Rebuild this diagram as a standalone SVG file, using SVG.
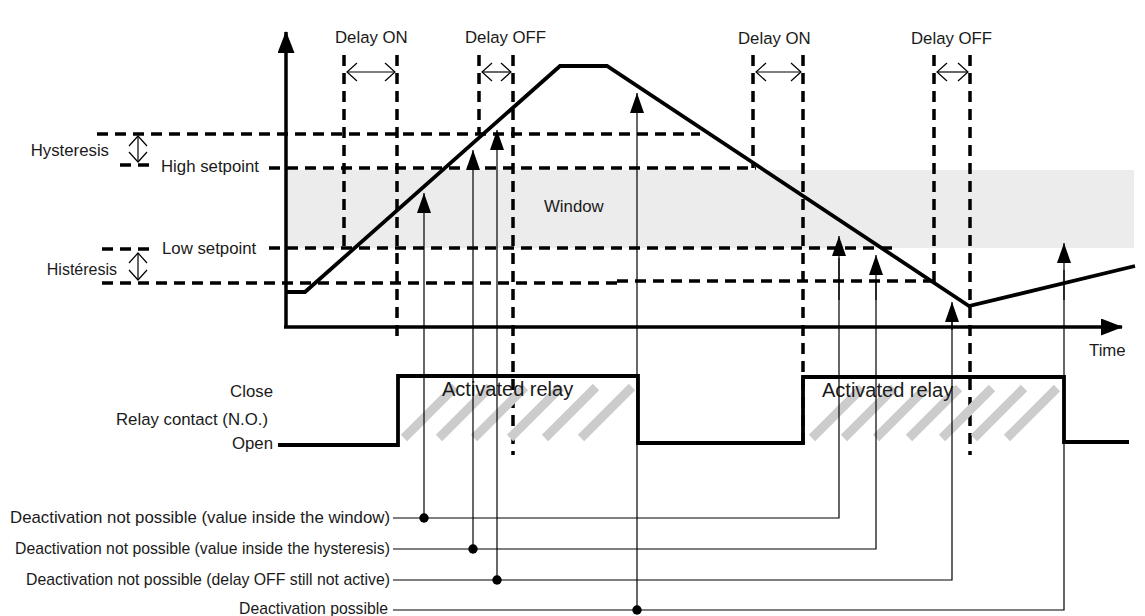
<svg xmlns="http://www.w3.org/2000/svg" width="1145" height="616" viewBox="0 0 1145 616">
<style>
text{font-family:"Liberation Sans",Arial,sans-serif;font-size:16.8px;fill:#1a1a1a}
.big{font-size:20px}
.leg{font-size:16.2px}
.end{text-anchor:end}
.dash{fill:none;stroke:#000;stroke-width:3.5;stroke-dasharray:11 7}
.thick{fill:none;stroke:#000;stroke-width:3.8;stroke-linejoin:miter}
.thin{fill:none;stroke:#000;stroke-width:1.2}
.arr{fill:none;stroke:#000;stroke-width:1.2;marker-end:url(#fa)}
.dbl{fill:none;stroke:#000;stroke-width:1.2;marker-start:url(#oa);marker-end:url(#oa)}
.hatch{stroke:#cccccc;stroke-width:9;fill:none}
.dot{fill:#000}
</style>
<defs>
<marker id="fa" markerUnits="userSpaceOnUse" viewBox="0 0 20 14" markerWidth="20" markerHeight="14" refX="20" refY="7" orient="auto">
<path d="M0,0 L20,7 L0,14 z" fill="#000"/>
</marker>
<marker id="oa" markerUnits="userSpaceOnUse" viewBox="0 0 12 20" markerWidth="12" markerHeight="20" refX="11" refY="10" orient="auto-start-reverse">
<path d="M1,1 L11,10 L1,19" fill="none" stroke="#000" stroke-width="1.2"/>
</marker>
<marker id="ax" markerUnits="userSpaceOnUse" viewBox="0 0 22 17" markerWidth="22" markerHeight="17" refX="21" refY="8.5" orient="auto">
<path d="M0,0 L22,8.5 L0,17 z" fill="#000"/>
</marker>
</defs>

<g id="window">
<rect x="286" y="170" width="848" height="78" fill="#ececec"/>
<text x="544" y="212">Window</text>
</g>

<g id="levels">
<path class="dash" d="M97,134 H700"/>
<path class="dash" d="M120,165 H156"/>
<path class="dash" d="M269,168 H756"/>
<path class="dash" d="M102,249 H150"/>
<path class="dash" d="M269,248 H893"/>
<path class="dash" d="M102,283 H617 M617,281 H934"/>
<path class="dbl" d="M138,136 V162"/>
<path class="dbl" d="M138,253 V280"/>
<text class="end" x="109" y="156">Hysteresis</text>
<text x="161" y="172">High setpoint</text>
<text x="162" y="254">Low setpoint</text>
<text class="end" x="117" y="275" style="font-size:16px">Histéresis</text>
</g>

<g id="delays">
<path class="dash" d="M344,55 V246"/>
<path class="dash" d="M397,55 V336"/>
<path class="dash" d="M479,55 V134"/>
<path class="dash" d="M513,55 V455"/>
<path class="dash" d="M753,55 V168"/>
<path class="dash" d="M803,55 V445"/>
<path class="dash" d="M934,55 V283"/>
<path class="dash" d="M970,55 V455"/>
<path class="dbl" d="M347,72 H395"/>
<path class="dbl" d="M482,72 H511"/>
<path class="dbl" d="M756,72 H801"/>
<path class="dbl" d="M937,72 H968"/>
<text x="335" y="43">Delay ON</text>
<text x="465" y="43">Delay OFF</text>
<text x="738" y="44">Delay ON</text>
<text x="911" y="44">Delay OFF</text>
</g>

<g id="axes">
<path class="thick" d="M286,327 V32" marker-end="url(#ax)" style="stroke-width:3.5"/>
<path class="thick" d="M284,327 H1122" marker-end="url(#ax)" style="stroke-width:3.5"/>
<text x="1089" y="356">Time</text>
</g>

<g id="signal">
<path class="thick" d="M286,292 L305,292 L560,66 L607,66 L969,306 L1135,266"/>
</g>

<g id="relay">
<path class="hatch" d="M404,438 L455,387 M439,438 L490,387 M474,438 L525,387 M510,438 L561,387 M545,438 L596,387 M581,438 L632,387"/>
<path class="hatch" d="M812,438 L862,388 M844,438 L894,388 M876,438 L926,388 M909,438 L959,388 M942,438 L992,388 M974,438 L1024,388 M1007,438 L1057,388"/>
<path class="thick" d="M278,445 L398,445 L398,376 L638,376 L638,443 L803,443 L803,377 L1064,377 L1064,442 L1129,442"/>
<text class="big" x="442" y="396">Activated relay</text>
<text class="big" x="822" y="397">Activated relay</text>
<text class="end" x="273" y="397">Close</text>
<text class="end" x="268" y="425">Relay contact (N.O.)</text>
<text class="end" x="273" y="449">Open</text>
</g>

<g id="connectors">
<path class="thin" d="M393,518 H839 V258"/>
<path class="arr" d="M839,300 V236"/>
<path class="arr" d="M424,518 V193"/>
<path class="thin" d="M393,549 H876 V280"/>
<path class="arr" d="M876,300 V255"/>
<path class="arr" d="M473,549 V150"/>
<path class="thin" d="M393,580 H952 V320"/>
<path class="arr" d="M952,330 V302"/>
<path class="arr" d="M497,580 V130"/>
<path class="thin" d="M393,610 H1064 V270"/>
<path class="arr" d="M1064,300 V243"/>
<path class="arr" d="M637,610 V93"/>
<circle class="dot" cx="424" cy="518" r="4.7"/>
<circle class="dot" cx="473" cy="549" r="4.7"/>
<circle class="dot" cx="497" cy="580" r="4.7"/>
<circle class="dot" cx="637" cy="610" r="4.7"/>
</g>

<g id="legend">
<text class="leg" x="10" y="523" textLength="380" lengthAdjust="spacingAndGlyphs">Deactivation not possible (value inside the window)</text>
<text class="leg" x="15" y="554" textLength="375" lengthAdjust="spacingAndGlyphs">Deactivation not possible (value inside the hysteresis)</text>
<text class="leg" x="26" y="585" textLength="364" lengthAdjust="spacingAndGlyphs">Deactivation not possible (delay OFF still not active)</text>
<text class="leg" x="239" y="614" textLength="149" lengthAdjust="spacingAndGlyphs">Deactivation possible</text>
</g>
</svg>
